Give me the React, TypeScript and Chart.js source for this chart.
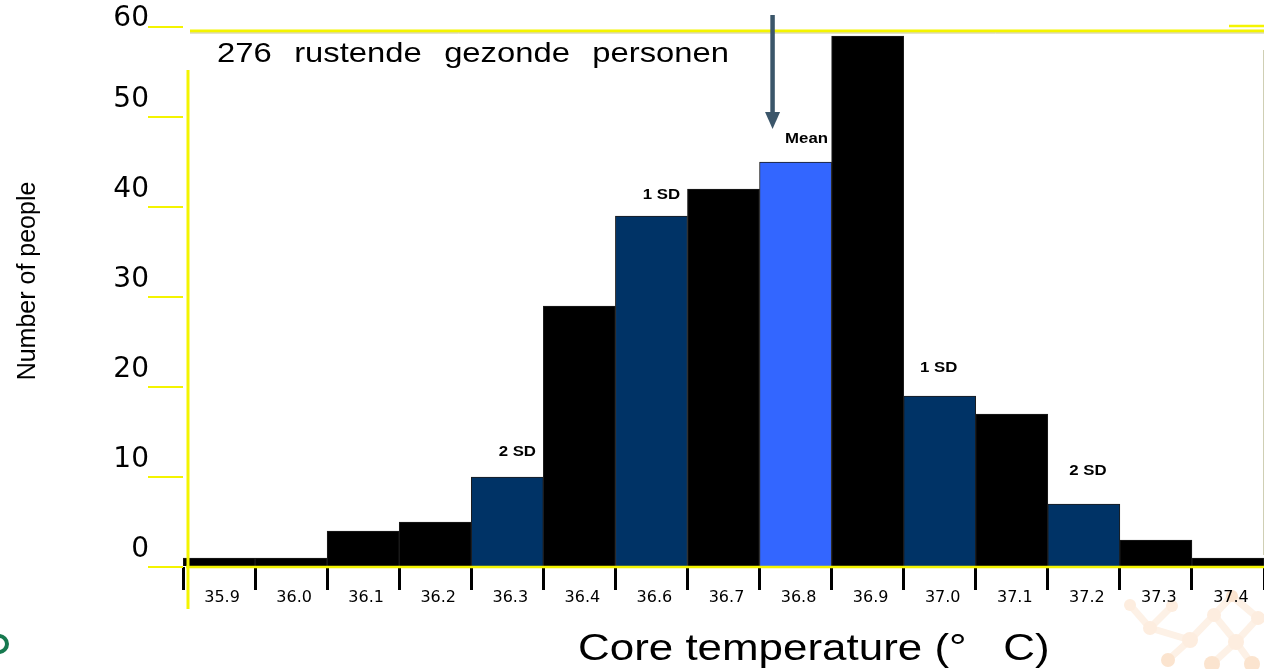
import React, { useEffect, useRef } from 'react';
import { Chart, registerables } from 'chart.js';

Chart.register(...registerables);

// ---- data ----
const categories = ['35.9', '36.0', '36.1', '36.2', '36.3', '36.4', '36.6', '36.7', '36.8', '36.9', '37.0', '37.1', '37.2', '37.3', '37.4'];
const counts = [1, 1, 4, 5, 10, 29, 39, 42, 45, 59, 19, 17, 7, 3, 1];
const barKinds = ['other', 'other', 'other', 'other', 'sd', 'other', 'sd', 'other', 'mean', 'other', 'sd', 'other', 'sd', 'other', 'other'];
const barLabels = ['', '', '', '', '2 SD', '', '1 SD', '', 'Mean', '', '1 SD', '', '2 SD', '', ''];
const yTicks = [0, 10, 20, 30, 40, 50, 60];
const subtitle = '276 rustende gezonde personen';
const xTitle = 'Core temperature (\u00B0   C)';
const yTitle = 'Number of people';

const kindColors: Record<string, string> = { other: '#000000', sd: '#003366', mean: '#3366ff' };
const YELLOW = '#f4f400';

// per-label fine placement (dx from bar centre, dy above bar top)
const labelPlacement: Record<number, [number, number]> = {
  4: [10, 21],
  6: [10, 17],
  8: [11, 19],
  10: [-1, 24],
  12: [4, 29],
};

function stretchText(ctx: CanvasRenderingContext2D, text: string, x: number, y: number, font: string, sx: number, align: CanvasTextAlign = 'left') {
  ctx.save();
  ctx.font = font;
  ctx.translate(x, y);
  ctx.scale(sx, 1);
  ctx.textAlign = align;
  ctx.textBaseline = 'alphabetic';
  ctx.fillStyle = '#000';
  ctx.fillText(text, 0, 0);
  ctx.restore();
}

const decorPlugin = {
  id: 'decor',
  beforeDraw(chart: any) {
    const ctx: CanvasRenderingContext2D = chart.ctx;
    ctx.save();
    ctx.fillStyle = '#ffffff';
    ctx.fillRect(0, 0, chart.width, chart.height);
    // faint decorative pattern (bottom right)
    const nodes: [number, number, number][] = [
      [1130, 605, 6], [1150, 628, 7], [1172, 606, 6], [1190, 640, 8], [1214, 615, 7],
      [1236, 642, 8], [1258, 618, 7], [1168, 660, 7], [1212, 664, 8], [1252, 664, 8], [1232, 596, 6],
    ];
    const links: [number, number][] = [[0, 1], [1, 2], [1, 3], [3, 4], [4, 5], [5, 6], [3, 7], [5, 8], [5, 9], [4, 10], [6, 10]];
    ctx.strokeStyle = '#fdf1e6';
    ctx.lineWidth = 7;
    ctx.lineCap = 'round';
    links.forEach(([a, b]) => {
      ctx.beginPath();
      ctx.moveTo(nodes[a][0], nodes[a][1]);
      ctx.lineTo(nodes[b][0], nodes[b][1]);
      ctx.stroke();
    });
    nodes.forEach(([x, y, r], i) => {
      ctx.fillStyle = i > 6 ? '#fbe4cf' : '#fdeddf';
      ctx.beginPath();
      ctx.arc(x, y, r, 0, Math.PI * 2);
      ctx.fill();
    });
    // green logo fragment (bottom left)
    ctx.strokeStyle = '#16794f';
    ctx.lineWidth = 4;
    ctx.beginPath();
    ctx.arc(-1, 644, 8, -Math.PI / 2, Math.PI / 2);
    ctx.stroke();
    ctx.restore();
  },
  afterDatasetsDraw(chart: any) {
    const ctx: CanvasRenderingContext2D = chart.ctx;
    const { left, right, top, bottom } = chart.chartArea;
    const xs = chart.scales.x;
    const ys = chart.scales.y;
    ctx.save();
    // yellow frame lines
    ctx.strokeStyle = YELLOW;
    ctx.lineWidth = 3;
    ctx.beginPath();
    ctx.moveTo(left + 5, 70);
    ctx.lineTo(left + 5, bottom + 42);
    ctx.stroke();
    ctx.lineWidth = 2.5;
    ctx.beginPath();
    ctx.moveTo(left + 3, bottom);
    ctx.lineTo(right, bottom);
    ctx.stroke();
    ctx.lineWidth = 3;
    ctx.beginPath();
    ctx.moveTo(left + 7, top + 4);
    ctx.lineTo(right, top + 4);
    ctx.stroke();
    ctx.strokeStyle = '#c9c98e';
    ctx.lineWidth = 1;
    ctx.beginPath();
    ctx.moveTo(left + 7, top + 6);
    ctx.lineTo(right, top + 6);
    ctx.stroke();
    ctx.strokeStyle = YELLOW;
    ctx.lineWidth = 2.5;
    ctx.beginPath();
    ctx.moveTo(right - 35, top - 1);
    ctx.lineTo(right, top - 1);
    ctx.stroke();
    ctx.strokeStyle = '#cfcfb4';
    ctx.lineWidth = 1;
    ctx.beginPath();
    ctx.moveTo(right - 0.5, 50);
    ctx.lineTo(right - 0.5, 555);
    ctx.stroke();

    // bar annotations
    barLabels.forEach((lab, i) => {
      if (!lab) return;
      const [dx, dy] = labelPlacement[i] || [0, 20];
      const cx = xs.getPixelForValue(i) + dx;
      const ty = ys.getPixelForValue(counts[i]) - dy;
      stretchText(ctx, lab, cx, ty, 'bold 14px "Liberation Sans", Arial, sans-serif', 1.2, 'center');
    });

    // arrow pointing at the mean
    const ax = xs.getPixelForValue(8) - 23;
    ctx.strokeStyle = '#3b566a';
    ctx.fillStyle = '#3b566a';
    ctx.lineWidth = 4.5;
    ctx.beginPath();
    ctx.moveTo(ax, 15);
    ctx.lineTo(ax, 114);
    ctx.stroke();
    ctx.beginPath();
    ctx.moveTo(ax - 7.5, 112);
    ctx.lineTo(ax + 7.5, 112);
    ctx.lineTo(ax, 129);
    ctx.closePath();
    ctx.fill();

    // subtitle, word by word with wide spacing
    const subFont = '28px "Liberation Sans", Arial, sans-serif';
    let cx = 217;
    subtitle.split(' ').forEach((w) => {
      stretchText(ctx, w, cx, 62, subFont, 1.17);
      ctx.font = subFont;
      cx += ctx.measureText(w).width * 1.17 + 22.5;
    });

    // x title
    stretchText(ctx, xTitle, 578, 660, '36px "Liberation Sans", Arial, sans-serif', 1.22);

    // y title (rotated)
    ctx.save();
    ctx.translate(35, 281);
    ctx.rotate(-Math.PI / 2);
    ctx.font = '25px "Liberation Sans", Arial, sans-serif';
    ctx.fillStyle = '#000';
    ctx.textAlign = 'center';
    ctx.textBaseline = 'alphabetic';
    ctx.fillText(yTitle, 0, 0);
    ctx.restore();

    ctx.restore();
  },
};

export default function App() {
  const ref = useRef<HTMLCanvasElement | null>(null);

  useEffect(() => {
    if (!ref.current) return;
    const chart = new Chart(ref.current, {
      type: 'bar',
      data: {
        labels: categories,
        datasets: [
          {
            data: counts,
            backgroundColor: barKinds.map((k) => kindColors[k]),
            borderColor: '#1c1c1c',
            borderWidth: 1,
            barPercentage: 1,
            categoryPercentage: 1,
          },
        ],
      },
      options: {
        responsive: false,
        animation: false,
        layout: { padding: { top: 27, right: 0, bottom: 0, left: 0 } },
        plugins: { legend: { display: false }, tooltip: { enabled: false }, title: { display: false } },
        scales: {
          x: {
            type: 'category',
            offset: true,
            border: { display: false },
            grid: {
              offset: true,
              drawOnChartArea: false,
              drawTicks: true,
              tickLength: 23,
              lineWidth: 3,
              color: (c: any) => (c.index >= categories.length ? 'rgba(0,0,0,0)' : '#000'),
            },
            ticks: {
              color: '#000',
              font: { family: '"DejaVu Sans", sans-serif', size: 16 },
              padding: -2,
              labelOffset: 3,
              maxRotation: 0,
              autoSkip: false,
            },
            afterFit: (s: any) => {
              s.height = 102;
            },
          },
          y: {
            type: 'linear',
            min: 0,
            max: 60,
            border: { display: false },
            afterBuildTicks: (s: any) => {
              s.ticks = yTicks.map((v) => ({ value: v }));
            },
            grid: {
              drawOnChartArea: false,
              drawTicks: true,
              tickLength: 35,
              lineWidth: 2,
              color: YELLOW,
            },
            ticks: {
              color: '#000',
              font: { family: '"DejaVu Sans", sans-serif', size: 28, lineHeight: 0.6 },
              padding: -1,
              labelOffset: -17,
              callback: (v: any) => (v === yTicks[yTicks.length - 1] ? ['', String(v)] : String(v)),
            },
            afterFit: (s: any) => {
              s.width = 183;
            },
          },
        },
      },
      plugins: [decorPlugin],
    });
    return () => chart.destroy();
  }, []);

  return (
    <div style={{ position: 'fixed', left: 0, top: 0, width: 1264, height: 669, background: '#fff' }}>
      <canvas ref={ref} width={1264} height={669} style={{ display: 'block' }} />
    </div>
  );
}
